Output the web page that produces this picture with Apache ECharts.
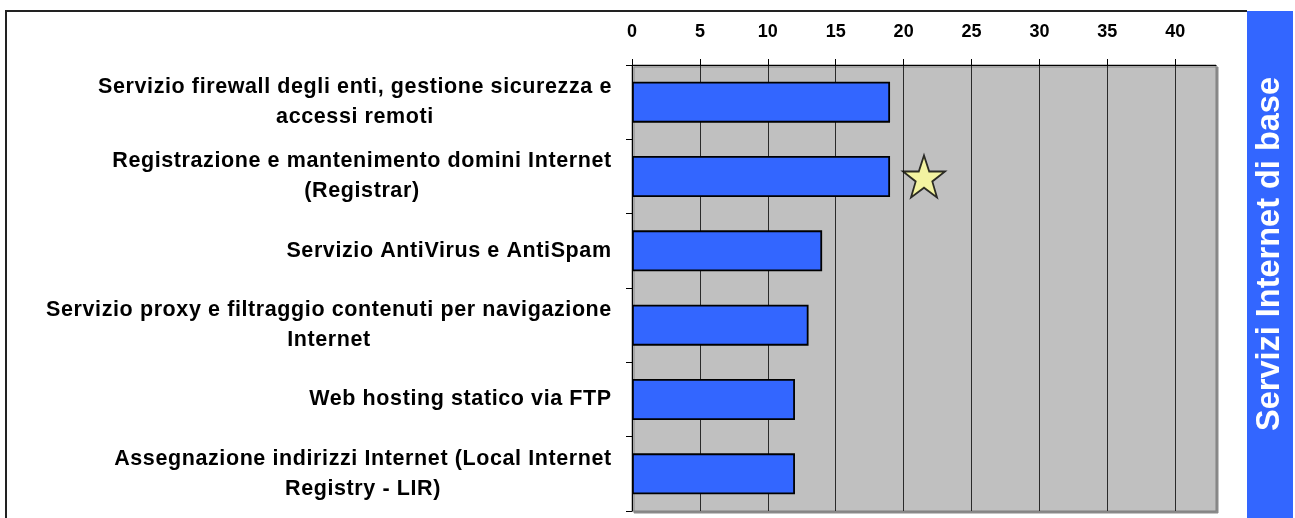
<!DOCTYPE html>
<html>
<head>
<meta charset="utf-8">
<script src="https://cdn.jsdelivr.net/npm/echarts@6/dist/echarts.min.js"></script>
<style>
  html, body { margin: 0; padding: 0; background: #fff; }
  #chart { width: 1295px; height: 518px; }
</style>
</head>
<body>
<div id="chart"></div>
<script>
// categories, top to bottom
var categories = [
    'Servizio firewall degli enti, gestione sicurezza e\naccessi remoti',
    'Registrazione e mantenimento domini Internet\n(Registrar)',
    'Servizio AntiVirus e AntiSpam',
    'Servizio proxy e filtraggio contenuti per navigazione\nInternet',
    'Web hosting statico via FTP',
    'Assegnazione indirizzi Internet (Local Internet\nRegistry - LIR)'
];
var values = [19, 19, 14, 13, 12, 12];
// star marker next to the second bar
var starPoints = [[21.5, 1]];
var tickValues = [0, 5, 10, 15, 20, 25, 30, 35, 40];
var sideTitle = 'Servizi Internet di base';

var FONT = '"Liberation Sans", Arial, sans-serif';
var LABEL_SIZE = 21.5;
var SPACING = '0.6px'; // the original labels are slightly letter-spaced
var STAR = 'path://M50,0 L61.8,35.3 L97.6,35.3 L68.8,57.2 L79.4,92.7 L50,71 L20.6,92.7 L31.2,57.2 L2.4,35.3 L38.2,35.3 Z';

// each label gets its own rich style so its lines are centred in a right-aligned block
var ctx = document.createElement('canvas').getContext('2d');
ctx.font = 'bold ' + LABEL_SIZE + 'px ' + FONT;
ctx.letterSpacing = SPACING;
var rich = {};
var labelLines = [];
categories.forEach(function (c, i) {
    var w = 0;
    c.split('\n').forEach(function (line) {
        labelLines.push(line);
        w = Math.max(w, ctx.measureText(line).width);
    });
    rich['c' + i] = {
        width: Math.ceil(w),
        align: 'center',
        fontSize: LABEL_SIZE,
        fontWeight: 'bold',
        fontFamily: FONT,
        color: '#000',
        lineHeight: 30
    };
});

var myChart = echarts.init(document.getElementById('chart'));
myChart.setOption({
    animation: false,
    grid: {
        left: 632, right: 79, top: 65, bottom: 7,
        show: true,
        backgroundColor: '#C0C0C0',
        borderColor: '#808080',
        borderWidth: 1,
        shadowColor: '#8a8a8a',
        shadowOffsetX: 2,
        shadowOffsetY: 2,
        shadowBlur: 0
    },
    xAxis: {
        type: 'value',
        position: 'top',
        min: 0,
        max: 43,
        interval: 5,
        axisLine: {show: true, lineStyle: {color: '#000', width: 1}},
        axisTick: {show: true, length: 6, lineStyle: {color: '#000'}, customValues: tickValues},
        axisLabel: {
            customValues: tickValues,
            margin: 24,
            fontSize: 18,
            fontWeight: 'bold',
            fontFamily: FONT,
            color: '#000'
        },
        splitLine: {show: true, lineStyle: {color: '#2a2a2a', width: 1}}
    },
    yAxis: {
        type: 'category',
        inverse: true,
        data: categories,
        axisLine: {show: true, lineStyle: {color: '#000', width: 1}},
        axisTick: {show: true, length: 6, lineStyle: {color: '#000'}},
        axisLabel: {
            margin: 20,
            align: 'right',
            formatter: function (v, i) {
                return v.split('\n').map(function (line) {
                    return '{c' + i + '|' + line + '}';
                }).join('\n');
            },
            rich: rich
        },
        splitLine: {show: false}
    },
    series: [
        {
            type: 'bar',
            data: values,
            barWidth: 41,
            itemStyle: {color: '#3366FF', borderColor: '#000', borderWidth: 1.8},
            silent: true
        },
        {
            type: 'scatter',
            data: starPoints,
            symbol: STAR,
            symbolSize: 42,
            itemStyle: {color: '#FFFF99', borderColor: '#000', borderWidth: 1.8},
            silent: true
        }
    ],
    graphic: [
        {
            type: 'polyline',
            shape: {points: [[6, 518], [6, 11], [1247, 11]]},
            style: {stroke: '#222', lineWidth: 2, fill: null},
            silent: true
        },
        {
            type: 'rect',
            shape: {x: 1247, y: 11, width: 46, height: 507},
            style: {fill: '#3366FF'},
            silent: true
        },
        {
            type: 'text',
            x: 1270,
            y: 254,
            rotation: Math.PI / 2,
            style: {
                text: sideTitle,
                fill: '#fff',
                font: 'bold 32.5px ' + FONT,
                align: 'center',
                verticalAlign: 'middle'
            },
            silent: true
        }
    ]
});

// letter spacing for the category labels only, set on the canvas around each of their spans
var mainCtx = document.querySelector('#chart canvas').getContext('2d');
var zr = myChart.getZr();
zr.storage.getDisplayList(true).forEach(function (el) {
    if (el.style && labelLines.indexOf(el.style.text) >= 0) {
        el.beforeBrush = function () { mainCtx.letterSpacing = SPACING; };
        el.afterBrush = function () { mainCtx.letterSpacing = '0px'; };
        el.markRedraw();
    }
});
zr.refreshImmediately();
</script>
</body>
</html>
